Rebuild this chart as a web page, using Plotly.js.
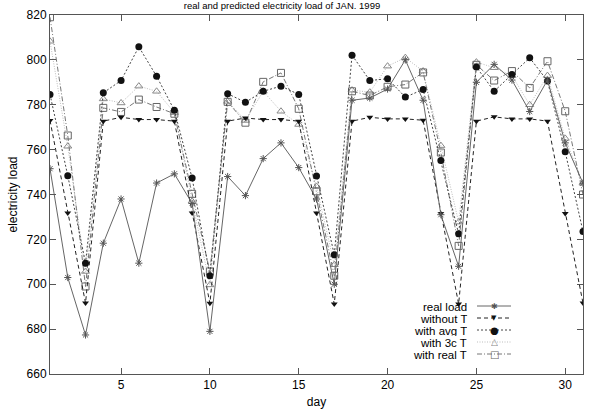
<!DOCTYPE html>
<html>
<head>
<meta charset="utf-8">
<script src="https://cdn.plot.ly/plotly-3.0.1.min.js"></script>
<style>
  html, body { margin: 0; padding: 0; background: #fff; }
  #chart { width: 591px; height: 414px; }
</style>
</head>
<body>
<div id="chart"></div>
<script>
// ---- data ----
const days = [1,2,3,4,5,6,7,8,9,10,11,12,13,14,15,16,17,18,19,20,21,22,23,24,25,26,27,28,29,30,31];

const realLoad = [751.5,703,677.4,718.3,738,709.4,745.1,749.2,736,679,748,739.5,756,763,752,738,700,782,783,787,800,782,731,708,790,798,791,777,791,763,745];

const withoutT = [773,731.7,691.6,772.7,774.4,773.4,773.4,772.7,731.7,691.5,772.7,774.1,773.4,773.4,772.7,731.7,691.2,772.7,774.4,773.7,773.7,773.1,731.5,691.2,772.7,774.6,773.7,773.7,772.7,731.5,691.6];

const withAvgT = [784.6,748.4,709.4,785.3,790.8,805.8,792.7,777.5,747.3,703.8,784.9,781.1,786,788.3,784.6,748.3,713.1,802.1,790.8,791.6,783.4,786.8,755.2,722.5,796.8,786,793.5,800.9,790.6,759,723.5];

const with3cT = [808.3,761.5,705.7,782.6,780.8,788.3,786,776.5,737,699.7,781.5,773,786,777.1,771.2,743.6,708.7,786.5,785.6,797.2,801,795,761.8,727.7,799,796.5,793,780,793,765,745];

const withRealT = [819,766.3,699,778.6,776.8,782.3,779,776,740.3,705.7,781.3,772,790.2,794.2,778.2,741.4,703.8,786,784.1,788,789,794.4,758.7,717.1,797.8,790.8,795,787.5,799.4,777.1,740];

const seriesNames = ["real load", "without T", "with avg T", "with 3c T", "with real T"];
const xTicks = [5,10,15,20,25,30];
const yTicks = [660,680,700,720,740,760,780,800,820];

// ---- styles ----
const styles = [
  {line: {color: "#666", width: 1, dash: "solid"},
   marker: {symbol: "asterisk-open", size: 6, color: "#555", line: {color: "#555", width: 1}}, glyph: "✱", gcolor: "#555", gsize: 8},
  {line: {color: "#222", width: 1, dash: "4px,3px"},
   marker: {symbol: "triangle-down", size: 6, color: "#111", line: {width: 0}}, glyph: "▼", gcolor: "#111", gsize: 7},
  {line: {color: "#444", width: 1, dash: "2px,2px"},
   marker: {symbol: "circle", size: 7, color: "#111", line: {width: 0}}, glyph: "●", gcolor: "#111", gsize: 10},
  {line: {color: "#bdbdbd", width: 1, dash: "1px,1.5px"},
   marker: {symbol: "triangle-up-open", size: 7, color: "#888", line: {color: "#888", width: 1}}, glyph: "△", gcolor: "#888", gsize: 9},
  {line: {color: "#777", width: 1, dash: "5px,2px,1px,2px"},
   marker: {symbol: "square-open", size: 7, color: "#666", line: {color: "#666", width: 1}}, glyph: "□", gcolor: "#666", gsize: 10}
];

const values = [realLoad, withoutT, withAvgT, with3cT, withRealT];

// draw order: lighter ones below
const order = [3, 4, 2, 1, 0];
const traces = order.map(i => ({
  x: days, y: values[i], type: "scatter", mode: "lines+markers",
  name: seriesNames[i], line: styles[i].line, marker: styles[i].marker,
  showlegend: false, cliponaxis: true
}));

// ---- gnuplot-like legend (text left of sample) ----
const W = 591, H = 414;
const mL = 50, mR = 8, mT = 15, mB = 40;
const pw = W - mL - mR, ph = H - mT - mB;
const px = v => (v - mL) / pw;
const py = v => (H - mB - v) / ph;

const legTextRight = 468, legSampleL = 477, legSampleR = 511, legTop = 306, legStep = 12;
const shapes = [];
const annotations = [];
seriesNames.forEach((nm, i) => {
  const yy = legTop + i * legStep;
  annotations.push({
    xref: "paper", yref: "paper", x: px(legTextRight), y: py(yy),
    xanchor: "right", yanchor: "middle", showarrow: false, text: nm,
    height: 11, borderpad: 0,
    font: {family: "Liberation Sans, Arial, sans-serif", size: 11.5, color: "#000"}
  });
  shapes.push({
    type: "line", xref: "paper", yref: "paper",
    x0: px(legSampleL), x1: px(legSampleR), y0: py(yy), y1: py(yy),
    line: {color: styles[i].line.color, width: 1, dash: styles[i].line.dash}
  });
  annotations.push({
    xref: "paper", yref: "paper", x: px((legSampleL + legSampleR) / 2), y: py(yy),
    xanchor: "center", yanchor: "middle", showarrow: false, text: styles[i].glyph,
    height: 10, borderpad: 0,
    font: {family: "DejaVu Sans, sans-serif", size: styles[i].gsize, color: styles[i].gcolor}
  });
});

const font = {family: "Liberation Sans, Arial, Helvetica, sans-serif", size: 12, color: "#000"};

const layout = {
  width: W, height: H,
  margin: {l: mL, r: mR, t: mT, b: mB, pad: 0},
  paper_bgcolor: "#fff", plot_bgcolor: "#fff",
  font: font,
  showlegend: false,
  title: {
    text: "real and predicted electricity load of JAN. 1999",
    font: {family: font.family, size: 9.5, color: "#000"},
    xref: "container", yref: "container", x: 282 / W, y: 1 - 6 / H,
    xanchor: "center", yanchor: "middle"
  },
  xaxis: {
    range: [1, 31], tickvals: xTicks, ticktext: xTicks.map(String),
    ticks: "inside", ticklen: 6, tickcolor: "#555", tickwidth: 1,
    showline: true, linecolor: "#555", linewidth: 1, mirror: "ticks",
    showgrid: false, zeroline: false, tickfont: font,
    title: {text: "day", font: font, standoff: 6}
  },
  yaxis: {
    range: [660, 820], tickvals: yTicks, ticktext: yTicks.map(String),
    ticks: "inside", ticklen: 6, tickcolor: "#555", tickwidth: 1,
    showline: true, linecolor: "#555", linewidth: 1, mirror: "ticks",
    showgrid: false, zeroline: false, tickfont: font,
    title: {text: "electricity load", font: font, standoff: 6}
  },
  shapes: shapes,
  annotations: annotations
};

Plotly.newPlot("chart", traces, layout, {displayModeBar: false, staticPlot: true});
</script>
</body>
</html>
